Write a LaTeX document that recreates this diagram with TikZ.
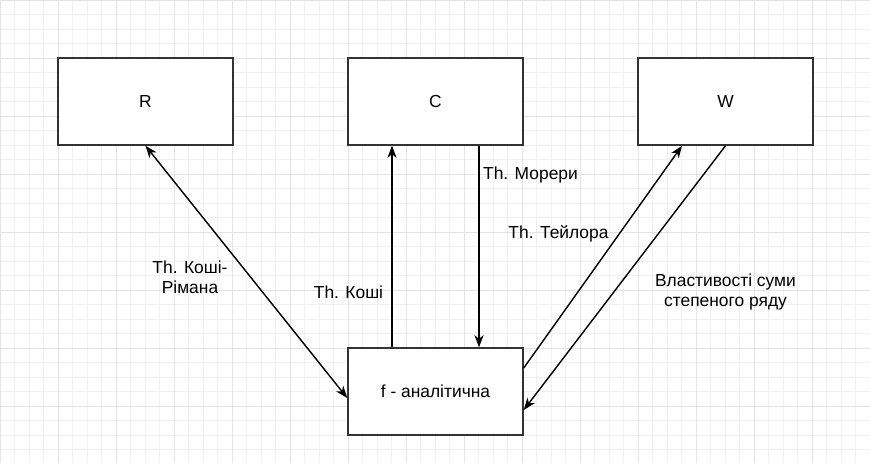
\documentclass[tikz,border=0pt]{standalone}
\usepackage{fontspec}
\setmainfont{Liberation Sans}
\usetikzlibrary{arrows.meta}
\begin{document}
\begin{tikzpicture}[x=1pt,y=-1pt,
  box/.style={draw=black!80, line width=1.5pt, fill=white, minimum width=175pt, minimum height=87pt, inner sep=0pt, font=\fontsize{17.4}{20}\selectfont},
  lbl/.style={align=center, inner sep=0pt, font=\fontsize{17.4}{20}\selectfont},
  conn/.style={line width=1.4pt, draw=black, -{Stealth[length=12pt,width=9pt,inset=3.5pt]}},
  both/.style={line width=1.4pt, draw=black, {Stealth[length=12pt,width=9pt,inset=3.5pt]}-{Stealth[length=12pt,width=9pt,inset=3.5pt]}}]
\useasboundingbox (0,0) rectangle (870,463);
\fill[white] (0,0) rectangle (870,463);
% grid
\foreach \i in {0,...,60} {
  \draw[line width=0.9pt, draw=black!6] (\i*14.5,0) -- (\i*14.5,463);
}
\foreach \j in {0,...,32} {
  \draw[line width=0.9pt, draw=black!6] (0,\j*14.5) -- (870,\j*14.5);
}
\foreach \i in {0,...,15} {
  \draw[line width=0.9pt, draw=black!11] (\i*58,0) -- (\i*58,463);
}
\foreach \j in {0,...,8} {
  \draw[line width=0.9pt, draw=black!11] (0,\j*58) -- (870,\j*58);
}
% boxes
\node[box] (R) at (145.5,101.5) {R};
\node[box] (C) at (435.5,101.5) {C};
\node[box] (W) at (725.5,101.5) {W};
\node[box] (f) at (435.5,391.5) {f - аналітична};
% connectors
\draw[both] (R.south) -- ([yshift=-6.5pt]f.west);
\draw[conn] ([xshift=-43.5pt]f.north) -- ([xshift=-43.5pt]C.south);
\draw[conn] ([xshift=43.5pt]C.south) -- ([xshift=43.5pt]f.north);
\draw[conn] ([yshift=23.5pt]f.east) -- ([xshift=-43.5pt]W.south);
\draw[conn] (W.south) -- ([yshift=-18.5pt]f.east);
% labels
\node[lbl] (l1) at (190,277) {Th. Коші-\\Рімана};
\node[lbl] (l2) at (348.5,292) {Th. Коші};
\node[lbl] (l3) at (530.5,175) {Th. Морери};
\node[lbl] (l4) at (558.5,234) {Th. Тейлора};
\node[lbl] (l5) at (725.5,292) {Властивості суми\\степеного ряду};
\end{tikzpicture}
\end{document}
